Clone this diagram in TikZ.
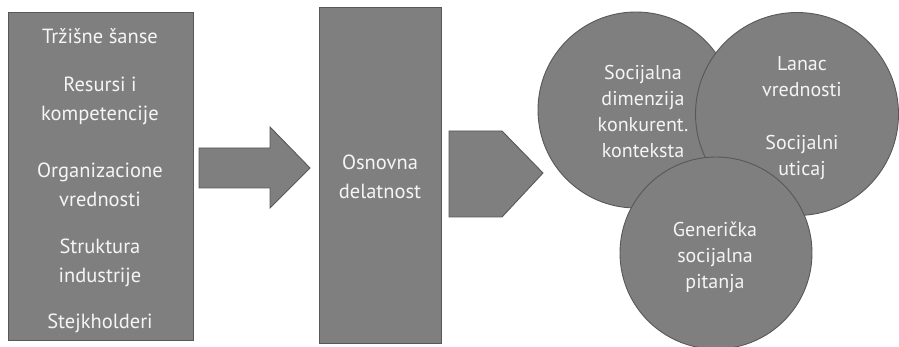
\documentclass[tikz,border=0pt]{standalone}
\usepackage{fontspec}
\setmainfont{PT Sans}
\definecolor{boxgray}{RGB}{127,127,127}
\definecolor{edgegray}{RGB}{88,88,88}
\definecolor{txtwhite}{RGB}{245,245,245}
\tikzset{
  graybox/.style={draw=edgegray, line width=0.9pt, fill=boxgray, inner sep=0pt},
  disc/.style={circle, draw=edgegray, line width=0.9pt, fill=boxgray, inner sep=0pt},
  blockarrow/.style={draw=edgegray, line width=0.9pt, fill=boxgray, line join=miter},
  lefttxt/.style={text=txtwhite, align=center, inner sep=0pt, font=\fontsize{20.5}{29}\selectfont},
  circtxt/.style={text=txtwhite, align=center, inner sep=0pt, font=\fontsize{20}{26}\selectfont}
}
\begin{document}
\begin{tikzpicture}[x=1pt,y=-1pt]
\useasboundingbox (0,0) rectangle (899,347);
% left column
\node[graybox, minimum width=185pt, minimum height=328pt] (left) at (100.5,176) {};
\node[lefttxt] (t1) at (100,36) {Tržišne šanse};
\node[lefttxt] (t2) at (100,101) {Resursi i\\kompetencije};
\node[lefttxt] (t3) at (100,185) {Organizacione\\vrednosti};
\node[lefttxt] (t4) at (100,263) {Struktura\\industrije};
\node[lefttxt] (t5) at (100,323) {Stejkholderi};
% first block arrow
\coordinate (a1) at (199,148);
\coordinate (a2) at (270,148);
\coordinate (a3) at (270,127);
\coordinate (a4) at (310,168);
\coordinate (a5) at (270,208);
\coordinate (a6) at (270,188);
\coordinate (a7) at (199,188);
\path[blockarrow] (a1) -- (a2) -- (a3) -- (a4) -- (a5) -- (a6) -- (a7) -- cycle;
% middle box
\node[graybox, minimum width=122pt, minimum height=336pt] (mid) at (380,175) {};
\node[lefttxt] (mt) at (380,177) {Osnovna\\delatnost};
% pentagon arrow
\coordinate (p1) at (449,131);
\coordinate (p2) at (502,131);
\coordinate (p3) at (543,173);
\coordinate (p4) at (502,217);
\coordinate (p5) at (449,217);
\path[blockarrow] (p1) -- (p2) -- (p3) -- (p4) -- (p5) -- cycle;
% circles
\node[disc, minimum size=196pt] (c1) at (636,110) {};
\node[disc, minimum size=203pt] (c2) at (797,114) {};
\node[disc, minimum size=192pt] (c3) at (716,253) {};
\node[circtxt] (c1t) at (643,112) {Socijalna\\dimenzija\\konkurent.\\konteksta};
\node[circtxt] (c2t) at (802,118) {Lanac\\vrednosti\\[27pt]Socijalni\\uticaj};
\node[circtxt] (c3t) at (715,257) {Generička\\socijalna\\pitanja};
\end{tikzpicture}
\end{document}
